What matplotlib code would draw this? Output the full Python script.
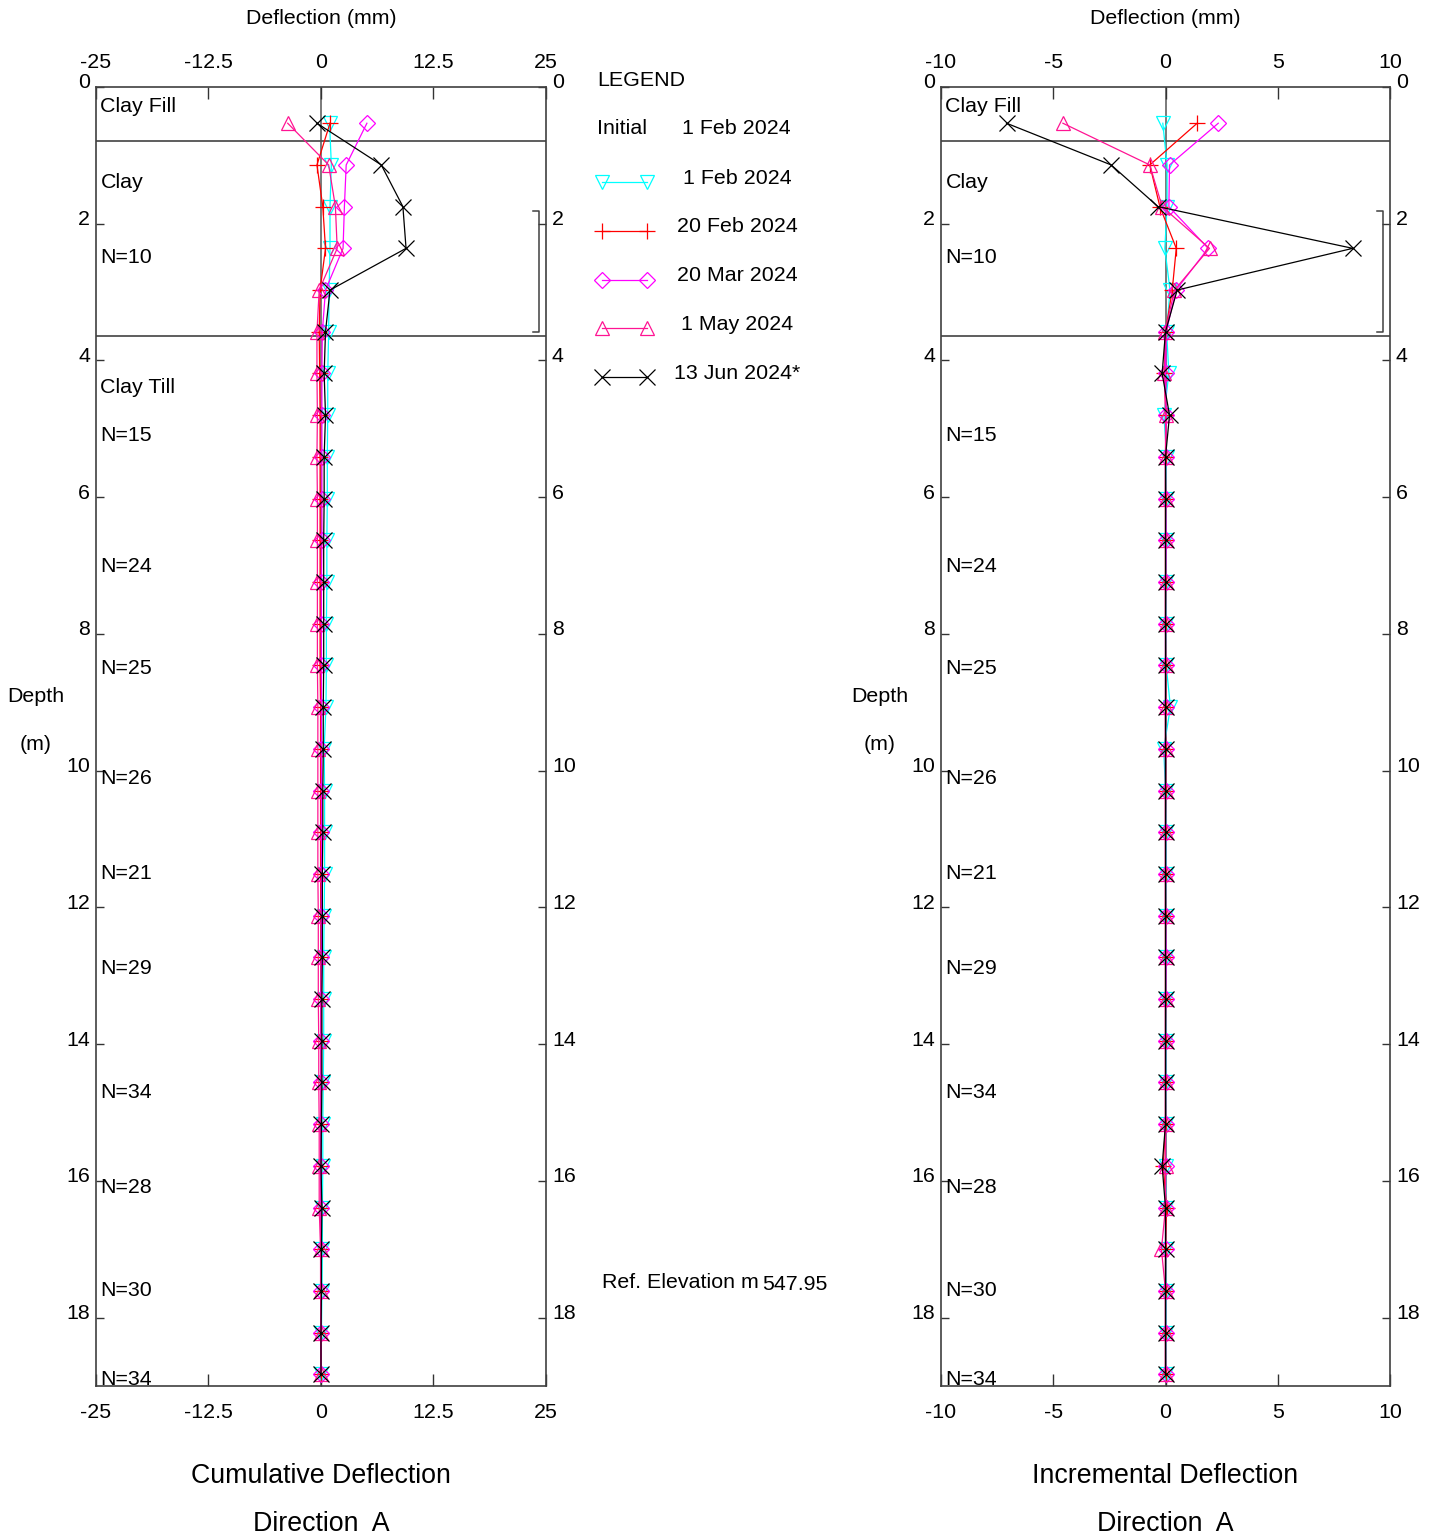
import numpy as np
import matplotlib
matplotlib.use("Agg")
import matplotlib.pyplot as plt
from matplotlib.transforms import blended_transform_factory

plt.rcParams['font.family'] = ['Liberation Sans', 'DejaVu Sans']
FS = 15.4

# Depth of each reading (m)
depths = np.round(0.53 + 0.61 * np.arange(31), 2)

# Cumulative deflection (mm), direction A
cum_1feb = [0.95, 1.15, 1.0, 1.0, 0.9, 0.85, 0.75, 0.75, 0.7, 0.7, 0.65, 0.65, 0.6, 0.6, 0.55, 0.35,
            0.4, 0.4, 0.4, 0.35, 0.3, 0.3, 0.3, 0.25, 0.2, 0.2, 0.15, 0.15, 0.1, 0.05, 0.0]
cum_20feb = [1.0, -0.45, 0.2, 0.5, -0.1, -0.2, -0.15, -0.1, -0.1, -0.1, -0.1, -0.1, -0.1, -0.1, -0.05, -0.05,
             -0.05, -0.05, -0.05, 0.0, 0.0, 0.0, 0.0, 0.0, 0.0, 0.05, 0.0, 0.0, 0.0, 0.0, 0.0]
cum_20mar = [5.1, 2.8, 2.6, 2.45, 0.5, 0.15, 0.1, 0.1, 0.1, 0.1, 0.1, 0.05, 0.05, 0.05, 0.05, 0.05,
             0.05, 0.05, 0.05, 0.05, 0.05, 0.0, 0.0, 0.0, 0.0, 0.0, 0.0, 0.0, 0.0, 0.0, 0.0]
cum_1may = [-3.7, 0.85, 1.6, 1.8, -0.2, -0.45, -0.45, -0.4, -0.45, -0.4, -0.4, -0.4, -0.4, -0.4, -0.35, -0.35,
            -0.35, -0.35, -0.35, -0.3, -0.3, -0.3, -0.25, -0.25, -0.2, -0.2, -0.2, -0.05, -0.05, 0.0, 0.0]
cum_13jun = [-0.45, 6.7, 9.1, 9.45, 1.0, 0.5, 0.35, 0.5, 0.35, 0.35, 0.3, 0.3, 0.3, 0.3, 0.25, 0.25,
             0.2, 0.2, 0.15, 0.15, 0.15, 0.1, 0.1, 0.1, 0.05, 0.0, 0.1, 0.05, 0.05, 0.0, 0.0]

# Incremental deflection (mm), direction A
inc_1feb = [-0.12, 0.07, 0.07, -0.03, 0.2, 0.05, 0.15, -0.07, 0.05, 0.0, 0.03, 0.0, 0.03, 0.03, 0.22, -0.08,
            0.0, 0.03, 0.03, 0.0, 0.02, 0.0, 0.03, 0.03, 0.0, 0.0, 0.03, 0.0, 0.03, 0.03, 0.0]
inc_20feb = [1.41, -0.7, -0.25, 0.48, 0.3, 0.0, -0.05, 0.02, 0.0, 0.0, 0.0, 0.0, 0.0, 0.02, 0.0, 0.0,
             0.0, 0.0, 0.0, 0.0, 0.0, 0.0, 0.0, 0.0, 0.0, -0.1, 0.05, 0.0, 0.0, 0.0, 0.0]
inc_20mar = [2.35, 0.18, 0.15, 1.9, 0.47, 0.03, 0.0, 0.03, 0.0, 0.0, 0.03, 0.0, 0.0, 0.0, 0.0, 0.0,
             0.0, 0.0, 0.0, 0.0, 0.03, 0.0, 0.0, 0.0, 0.0, 0.0, 0.0, 0.0, 0.0, 0.0, 0.0]
inc_1may = [-4.57, -0.7, -0.15, 1.96, 0.4, -0.02, -0.05, 0.0, 0.0, 0.0, 0.0, 0.0, 0.0, 0.0, 0.0, 0.0,
            0.0, 0.0, 0.0, 0.0, 0.0, 0.0, 0.0, 0.0, 0.0, 0.0, 0.0, -0.18, 0.0, 0.0, 0.0]
inc_13jun = [-7.08, -2.42, -0.33, 8.34, 0.52, 0.0, -0.15, 0.18, 0.0, 0.0, 0.0, 0.0, 0.0, 0.0, 0.0, 0.0,
             0.0, 0.0, 0.0, 0.0, 0.0, 0.0, 0.0, 0.0, 0.0, -0.15, 0.0, 0.0, 0.0, 0.0, 0.0]

series_labels = ['1 Feb 2024', '20 Feb 2024', '20 Mar 2024', '1 May 2024', '13 Jun 2024*']
series_colors = ['#00FFFF', '#FF0000', '#FF00FF', '#FF1493', '#000000']
series_markers = ['v', '+', 'D', '^', 'x']
series_ms = [10, 11, 7.8, 10.5, 11]

# Soil layer notes (text, depth m)
layer_notes = [('Clay Fill', 0.29), ('Clay', 1.39), ('N=10', 2.50), ('Clay Till', 4.40), ('N=15', 5.10),
               ('N=24', 7.01), ('N=25', 8.50), ('N=26', 10.11), ('N=21', 11.50), ('N=29', 12.90),
               ('N=34', 14.70), ('N=28', 16.10), ('N=30', 17.61), ('N=34', 18.91)]
layer_bounds = [0.79, 3.64]
bracket_top, bracket_bot = 1.81, 3.59
depth_ticks = list(range(0, 20, 2))
max_depth = 19

W, H = 1437, 1539
fig = plt.figure(figsize=(W / 100, H / 100), dpi=100)
fig.patch.set_facecolor('white')

# overlay in pixel coordinates for free text and the legend
ov = fig.add_axes([0, 0, 1, 1], zorder=-1)
ov.set_xlim(0, W)
ov.set_ylim(H, 0)
ov.axis('off')


def make_panel(left_px, right_px, xlim, xticks, xticklabels, data, title_x, skip_notes=()):
    ax = fig.add_axes([left_px / W, 1 - 1386 / H, (right_px - left_px) / W, (1386 - 87) / H])
    ax.set_xlim(*xlim)
    ax.set_ylim(max_depth, 0)
    ax.axvline(0, color='#707070', lw=1.3, zorder=1)
    for b in layer_bounds:
        ax.axhline(b, color='#505050', lw=1.3, zorder=1)
    for vals, lab, c, m, ms in zip(data, series_labels, series_colors, series_markers, series_ms):
        ax.plot(vals, depths, color=c, lw=0.9, marker=m, ms=ms, mfc='none', mec=c, mew=0.9, zorder=3)
    ax.set_xticks(xticks)
    ax.set_xticklabels(xticklabels, fontsize=FS)
    ax.tick_params(axis='x', direction='in', top=True, bottom=True, labeltop=False, labelbottom=True,
                   length=8.6, width=1, color='#333333', pad=12)
    # top tick labels
    for xv, xl in zip(xticks, xticklabels):
        ax.annotate(xl, xy=(xv, 1), xycoords=('data', 'axes fraction'), xytext=(0, 17.3),
                    textcoords='offset points', ha='center', va='center', fontsize=FS)
    ax.set_yticks(depth_ticks)
    ax.tick_params(axis='y', direction='in', left=True, right=True, labelleft=False,
                   length=5.8, width=1, color='#333333')
    for s in ax.spines.values():
        s.set_color('#404040')
        s.set_linewidth(1.2)
    for d in depth_ticks:
        ax.annotate(str(d), xy=(0, d), xycoords=('axes fraction', 'data'), xytext=(-4.3, -1),
                    textcoords='offset points', ha='right', va='baseline', fontsize=FS)
        ax.annotate(str(d), xy=(1, d), xycoords=('axes fraction', 'data'), xytext=(4.3, -1),
                    textcoords='offset points', ha='left', va='baseline', fontsize=FS)
    for txt, d in layer_notes:
        if txt in skip_notes:
            continue
        ax.annotate(txt, xy=(0, d), xycoords=('axes fraction', 'data'), xytext=(3.2, 0),
                    textcoords='offset points', ha='left', va='center', fontsize=FS, zorder=4)
    tr = blended_transform_factory(ax.transAxes, ax.transData)
    bx = 1 - 7 / (right_px - left_px)
    sx = 1 - 13 / (right_px - left_px)
    ax.plot([sx, bx, bx, sx], [bracket_top, bracket_top, bracket_bot, bracket_bot],
            color='#404040', lw=1.1, transform=tr, clip_on=False)
    # labels around the panel
    ov.text(title_x, 19, 'Deflection (mm)', ha='center', va='center', fontsize=FS)
    ov.text(title_x, 1476, 'Cumulative Deflection' if xlim[1] == 25 else 'Incremental Deflection',
            ha='center', va='center', fontsize=19.3)
    ov.text(title_x, 1524, 'Direction  A', ha='center', va='center', fontsize=19.3)
    return ax


cum_data = [cum_1feb, cum_20feb, cum_20mar, cum_1may, cum_13jun]
inc_data = [inc_1feb, inc_20feb, inc_20mar, inc_1may, inc_13jun]

make_panel(96, 546, (-25, 25), [-25, -12.5, 0, 12.5, 25], ['-25', '-12.5', '0', '12.5', '25'],
           cum_data, 321)
make_panel(941, 1390, (-10, 10), [-10, -5, 0, 5, 10], ['-10', '-5', '0', '5', '10'],
           inc_data, 1165, skip_notes=('Clay Till',))

# Depth axis labels
for cx in (36, 880):
    ov.text(cx, 697, 'Depth', ha='center', va='center', fontsize=FS)
    ov.text(cx, 745, '(m)', ha='center', va='center', fontsize=FS)

# Legend
ov.text(597, 81, 'LEGEND', ha='left', va='center', fontsize=FS)
ov.text(597, 129, 'Initial', ha='left', va='center', fontsize=FS)
ov.text(736, 129, '1 Feb 2024', ha='center', va='center', fontsize=FS)
for i, (lab, c, m, ms) in enumerate(zip(series_labels, series_colors, series_markers, series_ms)):
    y = 182 + 48.8 * i
    ov.plot([602, 647], [y, y], color=c, lw=0.9, marker=m, ms=ms, mfc='none', mec=c, mew=0.9)
    ov.text(737, y - 4, lab, ha='center', va='center', fontsize=FS)

ov.text(602, 1283, 'Ref. Elevation m', ha='left', va='center', fontsize=FS)
ov.text(762, 1285, '547.95', ha='left', va='center', fontsize=FS)

fig.savefig('out.png', dpi=100, facecolor='white')
